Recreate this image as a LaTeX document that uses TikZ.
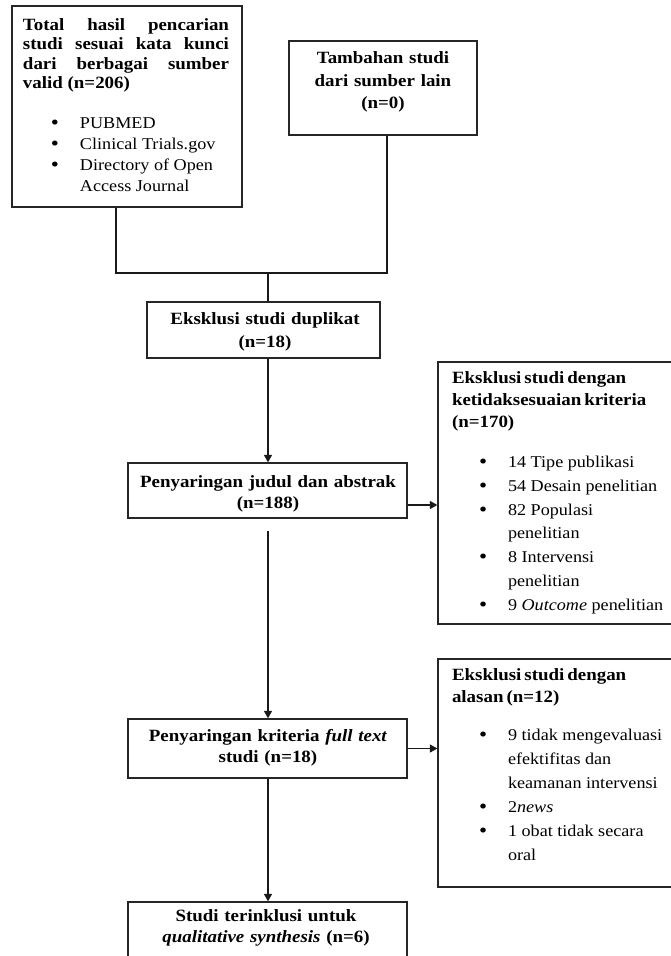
\documentclass[tikz,border=0pt]{standalone}
\usepackage{fontspec}
\setmainfont{Liberation Serif}[FakeStretch=1.1]
\usetikzlibrary{arrows.meta}
\newcommand{\bigbul}{\raisebox{-1.2pt}{\fontsize{21}{0}\selectfont\textbullet}}
\newcommand{\bitem}[2]{\par\noindent\hangindent=#1\hangafter=1 \makebox[#1][l]{\hspace*{#2}\bigbul}\ignorespaces}
\newcommand{\bsize}{\fontsize{17.2}{21}\selectfont}
\tikzset{
  box/.style={draw=black!85, line width=1.3pt, inner sep=0pt, fill=none},
  ln/.style={draw=black!90, line width=1.3pt},
  arr/.style={ln, -{Triangle[length=7.5pt,width=8pt]}},
  txt/.style={inner sep=0pt, outer sep=0pt},
  ctrtxt/.style={txt, anchor=base, align=center, text width=270pt}
}
\begin{document}
\begin{tikzpicture}[x=1pt,y=-1pt]
\useasboundingbox (0,0) rectangle (671,956);
\clip (0,0) rectangle (671,956);
\fill[white] (0,0) rectangle (671,956);

% boxes
\node[box, minimum width=230pt, minimum height=201pt] (b1) at (127,106.5) {};
\node[box, minimum width=188pt, minimum height=94pt] (b2) at (383,88) {};
\node[box, minimum width=233pt, minimum height=56pt] (b3) at (263.5,330) {};
\node[box, minimum width=279pt, minimum height=55pt] (b4) at (267.5,490.5) {};
\node[box, minimum width=279pt, minimum height=59pt] (b5) at (267.5,748.5) {};
\node[box, minimum width=279pt, minimum height=88pt] (b6) at (267.5,946) {};
\node[box, minimum width=262pt, minimum height=262pt] (r1) at (569,493) {};
\node[box, minimum width=262pt, minimum height=228pt] (r2) at (569,773) {};

% texts
\node[txt, anchor=base west, text width=206pt, align=justify] (t1) at (23,30) {%
\noindent\fontsize{17.2}{19.5}\selectfont\bfseries Total hasil pencarian\linebreak studi sesuai kata kunci\linebreak dari berbagai sumber\linebreak valid (n=206)\par
\vspace{18.2pt}%
\fontsize{16.5}{21.3}\selectfont\mdseries
\bitem{57pt}{28pt}PUBMED
\bitem{57pt}{28pt}Clinical Trials.gov
\bitem{57pt}{28pt}Directory of Open\newline Access Journal\par};

\node[ctrtxt, text width=180pt, font={\fontsize{17.2}{22.5}\selectfont\bfseries}] (t2) at (383,63.5) {Tambahan studi\\dari sumber lain\\(n=0)};
\node[ctrtxt, font={\fontsize{17.2}{23}\selectfont\bfseries}] (t3) at (265,324.5) {Eksklusi studi duplikat\\(n=18)};
\node[ctrtxt, font={\fontsize{17.2}{21}\selectfont\bfseries}] (t4) at (268,487.5) {Penyaringan judul dan abstrak\\(n=188)};
\node[ctrtxt, font={\fontsize{17.2}{21}\selectfont\bfseries}] (t5) at (268,741.5) {Penyaringan kriteria \textit{full text}\\studi (n=18)};
\node[ctrtxt, font={\fontsize{17.2}{21}\selectfont\bfseries}] (t6) at (266,921.5) {Studi terinklusi untuk\\\textit{qualitative synthesis} (n=6)};

\node[txt, anchor=base west, text width=230pt, align=left] (t7) at (452,383.5) {%
\noindent\fontsize{17.2}{22}\selectfont\bfseries\spaceskip=3pt plus 1pt
Eksklusi studi dengan\\ketidaksesuaian kriteria\\(n=170)\par
\vspace{16.2pt}%
\fontsize{16.5}{23.8}\selectfont\mdseries\spaceskip=0pt
\bitem{56pt}{27pt}14 Tipe publikasi
\bitem{56pt}{27pt}54 Desain penelitian
\bitem{56pt}{27pt}82 Populasi\newline penelitian
\bitem{56pt}{27pt}8 Intervensi\newline penelitian
\bitem{56pt}{27pt}9 \textit{Outcome} penelitian\par};

\node[txt, anchor=base west, text width=230pt, align=left] (t8) at (452,680.5) {%
\noindent\fontsize{17.2}{22}\selectfont\bfseries\spaceskip=3pt plus 1pt
Eksklusi studi dengan\\alasan (n=12)\par
\vspace{14pt}%
\fontsize{16.5}{24}\selectfont\mdseries\spaceskip=0pt
\bitem{56pt}{27pt}9 tidak mengevaluasi\newline efektifitas dan\newline keamanan intervensi
\bitem{56pt}{27pt}2\textit{news}
\bitem{56pt}{27pt}1 obat tidak secara\newline oral\par};

% connectors
\coordinate (j) at (268,273);
\draw[ln] ([xshift=-11pt]b1.south) |- ([xshift=4pt]b2.south |- j) -- ([xshift=4pt]b2.south);
\draw[ln] (j) -- (b3.north -| j);
\draw[arr] (b3.south -| j) -- (b4.north -| j);
\draw[arr] ([yshift=-12pt]b4.south -| j) -- (b5.north -| j);
\draw[arr] (b5.south -| j) -- (b6.north -| j);
\draw[arr] ([yshift=-14.5pt]b4.east) -- ([yshift=-14.5pt]b4.east -| r1.west);
\draw[arr] (b5.east) -- (b5.east -| r2.west);
\end{tikzpicture}
\end{document}
